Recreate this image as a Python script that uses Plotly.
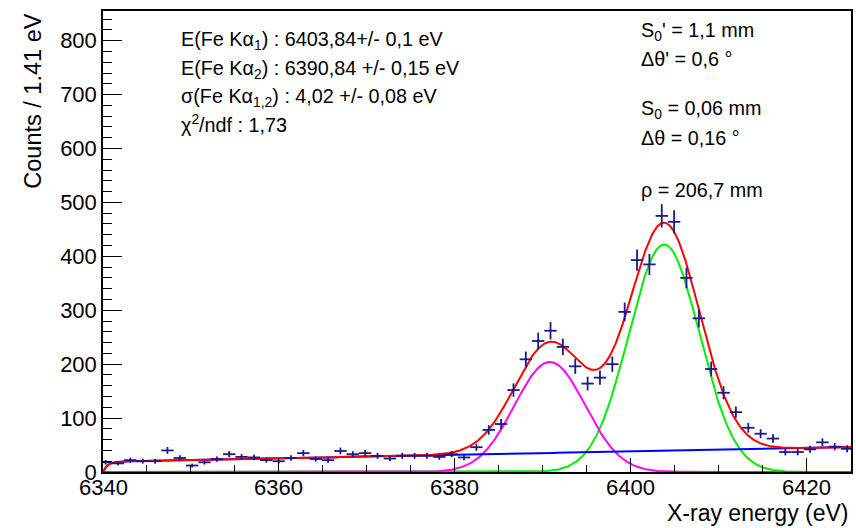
import numpy as np
import plotly.graph_objects as go

# ---------------- data ----------------
bin_first_center = 6340.3      # eV
bin_width = 1.406              # eV  (label: 1.41 eV)
counts = [18, 16, 22, 20, 20, 40, 26, 12, 18, 24,
          33, 28, 27, 22, 20, 26, 35, 24, 22, 39,
          33, 35, 30, 25, 30, 30, 30, 28, 33, 27,
          46, 78, 89, 152, 209, 243, 262, 232, 196, 164,
          175, 200, 297, 393, 385, 475, 464, 360, 285, 191,
          147, 111, 82, 71, 62, 37, 37, 42, 55, 47, 43]

# fit parameters
mu_ka1 = 6403.84
mu_ka2 = 6390.84
sigma = 4.02
amp_ka1 = 422.0
amp_ka2 = 204.0
bg_offset = 19.0       # background at 6340 eV
bg_slope = 0.32        # counts / eV
bg_rise = 0.5          # eV, onset of background at range start

x_range = [6340.0, 6425.1]
y_range = [0, 855]
x_ticks = [6340, 6360, 6380, 6400, 6420]
y_ticks = [0, 100, 200, 300, 400, 500, 600, 700, 800]

left_texts = ["E(Fe K\u03b1<sub>1</sub>) : 6403,84+/- 0,1 eV",
              "E(Fe K\u03b1<sub>2</sub>) : 6390,84 +/- 0,15 eV",
              "\u03c3(Fe K\u03b1<sub>1,2</sub>) : 4,02 +/- 0,08 eV",
              "\u03c7<sup>2</sup>/ndf : 1,73"]
right_texts = ["S<sub>0</sub>' = 1,1 mm",
               "\u0394\u03b8' = 0,6 \u00b0",
               "S<sub>0</sub> = 0,06 mm",
               "\u0394\u03b8 = 0,16 \u00b0",
               "\u03c1 = 206,7 mm"]

# ---------------- derived ----------------
counts = np.array(counts, dtype=float)
centers = bin_first_center + bin_width * np.arange(len(counts))
errs = np.sqrt(counts)

xf = np.linspace(x_range[0], x_range[1], 1200)
g1 = amp_ka1 * np.exp(-0.5 * ((xf - mu_ka1) / sigma) ** 2)
g2 = amp_ka2 * np.exp(-0.5 * ((xf - mu_ka2) / sigma) ** 2)
bg = (bg_offset + bg_slope * (xf - x_range[0])) * (1 - np.exp(-(xf - x_range[0]) / bg_rise))
total = g1 + g2 + bg

FONT = "Liberation Sans, Arial, sans-serif"
fig = go.Figure()
fig.add_trace(go.Scatter(x=xf, y=g1, mode="lines", line=dict(color="#00ee00", width=2)))
fig.add_trace(go.Scatter(x=xf, y=g2, mode="lines", line=dict(color="#ff00ff", width=2)))
fig.add_trace(go.Scatter(x=xf, y=bg, mode="lines", line=dict(color="#0000ff", width=2)))
fig.add_trace(go.Scatter(x=xf, y=total, mode="lines", line=dict(color="#ff0000", width=2)))
fig.add_trace(go.Scatter(
    x=centers, y=counts, mode="markers",
    marker=dict(size=1, color="#1a1a8c"),
    error_x=dict(type="constant", value=bin_width / 2, width=0, thickness=1.8, color="#1a1a8c"),
    error_y=dict(type="data", array=errs, width=0, thickness=1.8, color="#1a1a8c"),
))

L, R, T, B = 103, 3, 11, 56
W, H = 856, 528
pw, ph = W - L - R, H - T - B


def px(p):
    return (p - L) / pw


def py(p):
    return (H - B - p) / ph


ann = []
ly = [41, 69, 97, 124]
for t, yy in zip(left_texts, ly):
    ann.append(dict(text=t, x=px(179), y=py(yy), xref="paper", yref="paper",
                    xanchor="left", yanchor="middle", showarrow=False,
                    font=dict(family=FONT, size=19.8, color="black")))
ry = [31, 59, 110, 138, 190]
for t, yy in zip(right_texts, ry):
    ann.append(dict(text=t, x=px(640), y=py(yy), xref="paper", yref="paper",
                    xanchor="left", yanchor="middle", showarrow=False,
                    font=dict(family=FONT, size=19.8, color="black")))
# x tick labels (placed as in the reference, close under the axis)
for tv in x_ticks:
    ann.append(dict(text=str(tv), x=tv, y=py(487), xref="x", yref="paper",
                    xanchor="center", yanchor="middle", showarrow=False,
                    font=dict(family=FONT, size=22, color="black")))
ann.append(dict(text="X-ray energy (eV)", x=1.0, y=py(513), xref="paper", yref="paper",
                xanchor="right", yanchor="middle", showarrow=False,
                font=dict(family=FONT, size=23, color="black")))
ann.append(dict(text="Counts / 1.41 eV", x=px(33), y=py(12), xref="paper", yref="paper",
                xanchor="center", yanchor="top", showarrow=False, textangle=-90,
                font=dict(family=FONT, size=23.5, color="black")))

fig.update_layout(
    width=W, height=H, margin=dict(l=L, r=R, t=T, b=B),
    paper_bgcolor="white", plot_bgcolor="white", showlegend=False,
    annotations=ann,
    xaxis=dict(range=x_range, tickvals=x_ticks, ticks="inside", ticklen=14, tickwidth=1.3,
               tickcolor="black", showgrid=False, zeroline=False, showline=True,
               linecolor="black", linewidth=1.5, mirror=True, showticklabels=False,
               minor=dict(dtick=5, tick0=6340, ticks="inside", ticklen=7, tickwidth=1.3,
                          tickcolor="black", showgrid=False)),
    yaxis=dict(range=y_range, tickvals=y_ticks, ticks="inside", ticklen=19, tickwidth=1.3,
               tickcolor="black", showgrid=False, zeroline=False, showline=True,
               linecolor="black", linewidth=1.5, mirror=True,
               tickfont=dict(family=FONT, size=22, color="black"),
               minor=dict(dtick=20, tick0=0, ticks="inside", ticklen=9, tickwidth=1.3,
                          tickcolor="black", showgrid=False)),
)

fig.write_html("out.html")
